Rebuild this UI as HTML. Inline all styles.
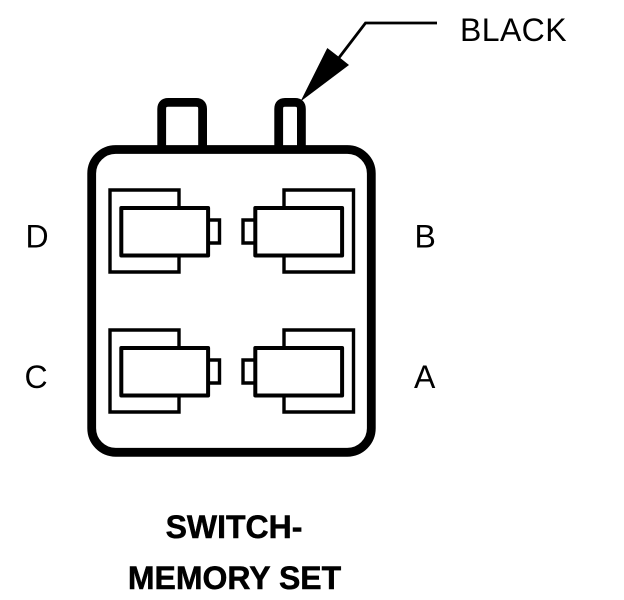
<!DOCTYPE html>
<html>
<head>
<meta charset="utf-8">
<style>
html,body{margin:0;padding:0;background:#fff;width:624px;height:600px;overflow:hidden}
svg{display:block}
text{font-family:"Liberation Sans",Arial,sans-serif;fill:#000;font-size:32px}
.b{font-weight:bold;stroke:#000;stroke-width:.5px}
</style>
</head>
<body>
<svg width="624" height="600" viewBox="0 0 624 600" xmlns="http://www.w3.org/2000/svg">
<rect width="624" height="600" fill="#fff"/>
<g fill="none" stroke="#000" stroke-linejoin="round">
  <!-- tabs -->
  <path d="M161.7 150V109Q161.7 102.4 168.3 102.4H196Q202.6 102.4 202.6 109V150" stroke-width="8.8"/>
  <path d="M278.7 150V109Q278.7 102.4 285 102.4H295Q301.4 102.4 301.4 109V150" stroke-width="8.8"/>
  <!-- body -->
  <rect x="91.7" y="149.5" width="279.6" height="302.8" rx="24" ry="24" stroke-width="8.8"/>
  <!-- connector group -->
  <g>
    <path d="M179 206V190H110V272H179V256" stroke-width="3.4" stroke-linejoin="miter"/>
    <rect x="121.3" y="208" width="86.8" height="47.5" stroke-width="4"/>
    <path d="M208 220H219.5V243H208" stroke-width="3.4" stroke-linejoin="miter"/>
    <path d="M284 206V190H353.5V272H284V256" stroke-width="3.4" stroke-linejoin="miter"/>
    <rect x="255.3" y="208" width="86.8" height="47.5" stroke-width="4"/>
    <path d="M255 220H243V243H255" stroke-width="3.4" stroke-linejoin="miter"/>
  </g>
  <g transform="translate(0,140)">
    <path d="M179 206V190H110V272H179V256" stroke-width="3.4" stroke-linejoin="miter"/>
    <rect x="121.3" y="208" width="86.8" height="47.5" stroke-width="4"/>
    <path d="M208 220H219.5V243H208" stroke-width="3.4" stroke-linejoin="miter"/>
    <path d="M284 206V190H353.5V272H284V256" stroke-width="3.4" stroke-linejoin="miter"/>
    <rect x="255.3" y="208" width="86.8" height="47.5" stroke-width="4"/>
    <path d="M255 220H243V243H255" stroke-width="3.4" stroke-linejoin="miter"/>
  </g>
  <!-- leader -->
  <path d="M338 59L365.5 23H437" stroke-width="2.8" stroke-linejoin="miter"/>
</g>
<!-- arrowhead -->
<polygon points="300.5,101.5 327.3,48 339.3,57.3 349,65" fill="#000"/>
<!-- labels -->
<text x="460" y="41" letter-spacing=".4">BLACK</text>
<text x="25.5" y="247.5">D</text>
<text x="24.5" y="388">C</text>
<text x="414.5" y="247.5">B</text>
<text x="414" y="388">A</text>
<text class="b" x="234" y="538" text-anchor="middle">SWITCH-</text>
<text class="b" x="234.5" y="589" text-anchor="middle">MEMORY SET</text>
</svg>
</body>
</html>
